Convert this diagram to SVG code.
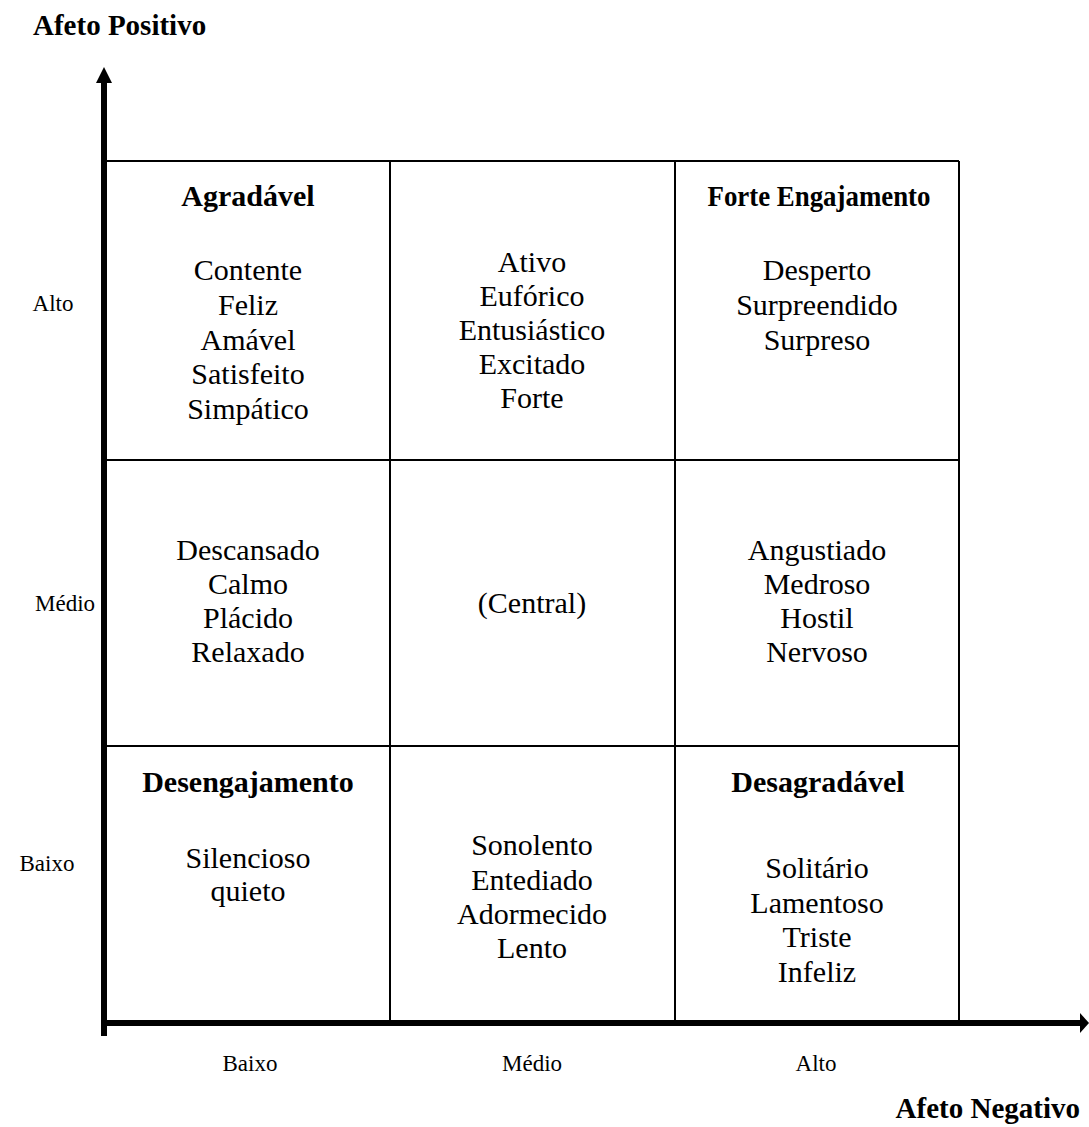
<svg xmlns="http://www.w3.org/2000/svg" width="1089" height="1127" viewBox="0 0 1089 1127" font-family="'Liberation Serif', 'DejaVu Serif', serif">
<defs>
<style>
text{font-family:'Liberation Serif','DejaVu Serif',serif;fill:#000}
.c{font-size:30px;text-anchor:middle}
.b{font-size:30px;font-weight:bold;text-anchor:middle}
.ax{font-size:23px;text-anchor:middle}
.t{font-weight:bold;font-size:29px}
.g{stroke:#000;stroke-width:2;fill:none}
.axis{stroke:#000;stroke-width:6;fill:none}
</style>
</defs>
<rect width="1089" height="1127" fill="#fff"/>
<g id="connectors">
<line class="g" x1="104" y1="161" x2="959" y2="161"/>
<line class="g" x1="104" y1="460" x2="959" y2="460"/>
<line class="g" x1="104" y1="746" x2="959" y2="746"/>
<line class="g" x1="390" y1="161" x2="390" y2="1023"/>
<line class="g" x1="675" y1="161" x2="675" y2="1023"/>
<line class="g" x1="959" y1="161" x2="959" y2="1023"/>
<line class="axis" x1="104" y1="1036" x2="104" y2="80"/>
<polygon points="104,67 96,83 112,83" fill="#000"/>
<line class="axis" x1="101" y1="1023" x2="1080" y2="1023"/>
<polygon points="1089,1023 1080,1013 1080,1033" fill="#000"/>
</g>
<g id="axis-labels">
<text class="t" x="33" y="35">Afeto Positivo</text>
<text class="t" x="1080" y="1118" text-anchor="end">Afeto Negativo</text>
<text class="ax" x="53" y="311">Alto</text>
<text class="ax" x="65" y="611">Médio</text>
<text class="ax" x="47" y="871">Baixo</text>
<text class="ax" x="250" y="1071">Baixo</text>
<text class="ax" x="532" y="1071">Médio</text>
<text class="ax" x="816" y="1071">Alto</text>
</g>
<g id="cell-agradavel">
<text class="b" x="248" y="206">Agradável</text>
<text class="c" x="248" y="280">Contente</text>
<text class="c" x="248" y="315">Feliz</text>
<text class="c" x="248" y="350">Amável</text>
<text class="c" x="248" y="384">Satisfeito</text>
<text class="c" x="248" y="419">Simpático</text>
</g>
<g id="cell-alto-medio">
<text class="c" x="532" y="272">Ativo</text>
<text class="c" x="532" y="306">Eufórico</text>
<text class="c" x="532" y="340">Entusiástico</text>
<text class="c" x="532" y="374">Excitado</text>
<text class="c" x="532" y="408">Forte</text>
</g>
<g id="cell-forte-engajamento">
<text class="b" x="819" y="206" textLength="223" lengthAdjust="spacingAndGlyphs">Forte Engajamento</text>
<text class="c" x="817" y="280">Desperto</text>
<text class="c" x="817" y="315">Surpreendido</text>
<text class="c" x="817" y="350">Surpreso</text>
</g>
<g id="cell-medio-baixo">
<text class="c" x="248" y="560">Descansado</text>
<text class="c" x="248" y="594">Calmo</text>
<text class="c" x="248" y="628">Plácido</text>
<text class="c" x="248" y="662">Relaxado</text>
</g>
<g id="cell-central">
<text class="c" x="532" y="613">(Central)</text>
</g>
<g id="cell-medio-alto">
<text class="c" x="817" y="560">Angustiado</text>
<text class="c" x="817" y="594">Medroso</text>
<text class="c" x="817" y="628">Hostil</text>
<text class="c" x="817" y="662">Nervoso</text>
</g>
<g id="cell-desengajamento">
<text class="b" x="248" y="792">Desengajamento</text>
<text class="c" x="248" y="868">Silencioso</text>
<text class="c" x="248" y="901">quieto</text>
</g>
<g id="cell-baixo-medio">
<text class="c" x="532" y="855">Sonolento</text>
<text class="c" x="532" y="890">Entediado</text>
<text class="c" x="532" y="924">Adormecido</text>
<text class="c" x="532" y="958">Lento</text>
</g>
<g id="cell-desagradavel">
<text class="b" x="818" y="792">Desagradável</text>
<text class="c" x="817" y="878">Solitário</text>
<text class="c" x="817" y="913">Lamentoso</text>
<text class="c" x="817" y="947">Triste</text>
<text class="c" x="817" y="982">Infeliz</text>
</g>
</svg>
